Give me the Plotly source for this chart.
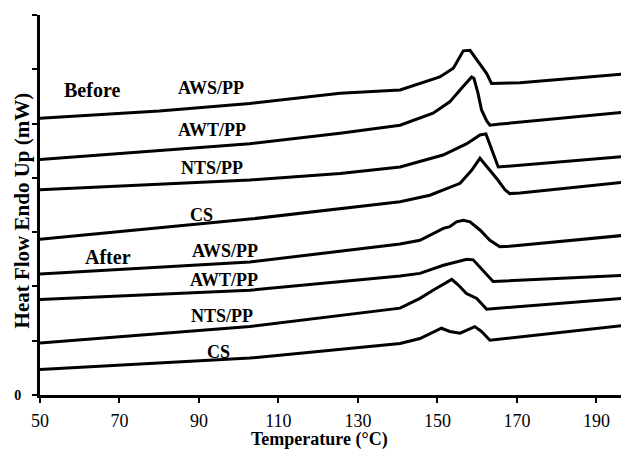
import plotly.graph_objects as go

# Temperature (°C) and heat-flow (offset, arbitrary units)
b_aws_t = [50, 80, 102.8, 125.5, 140.6, 145.6, 150.6, 154.0, 156.5, 158.2, 159.9, 162.4, 163.6, 170.8, 198.2]
b_aws_y = [5.10, 5.23, 5.37, 5.56, 5.62, 5.74, 5.86, 6.02, 6.34, 6.35, 6.17, 5.92, 5.74, 5.75, 5.92]

b_awt_t = [50, 102.8, 125.5, 138.8, 140.6, 148.9, 150.6, 153.1, 156.4, 158.6, 159.2, 160.2, 161.1, 162.4, 163.2, 165.8, 198.2]
b_awt_y = [4.34, 4.63, 4.82, 4.95, 4.97, 5.19, 5.28, 5.40, 5.68, 5.86, 5.83, 5.56, 5.25, 5.05, 4.97, 4.99, 5.22]

b_nts_t = [50, 102.8, 125.5, 140.6, 151.4, 157.4, 160.7, 162.2, 165.3, 198.2]
b_nts_y = [3.78, 3.96, 4.08, 4.20, 4.42, 4.63, 4.79, 4.81, 4.20, 4.40]

b_cs_t = [50, 102.8, 140.6, 148.1, 155.7, 158.6, 160.7, 163.2, 165.2, 167.0, 168.2, 170.8, 198.2]
b_cs_y = [2.87, 3.24, 3.56, 3.68, 3.90, 4.14, 4.36, 4.14, 3.96, 3.78, 3.71, 3.72, 3.93]

a_aws_t = [50, 102.8, 140.6, 145.6, 151.5, 153.1, 154.8, 156.5, 158.2, 160.7, 163.2, 165.7, 168.2, 198.2]
a_aws_y = [2.23, 2.45, 2.78, 2.85, 3.07, 3.10, 3.19, 3.22, 3.19, 3.04, 2.85, 2.73, 2.74, 2.95]

a_awt_t = [50, 102.8, 140.6, 145.6, 151.5, 157.4, 159.0, 161.5, 164.0, 198.2]
a_awt_y = [1.76, 1.93, 2.19, 2.24, 2.39, 2.50, 2.49, 2.30, 2.09, 2.21]

a_nts_t = [50, 102.8, 140.6, 145.6, 148.9, 153.6, 155.2, 157.3, 159.9, 162.4, 198.2]
a_nts_y = [0.96, 1.26, 1.60, 1.78, 1.93, 2.13, 2.03, 1.87, 1.78, 1.58, 1.79]

a_cs_t = [50, 102.8, 140.6, 145.6, 151.0, 153.1, 155.7, 159.4, 161.1, 163.2, 198.2]
a_cs_y = [0.47, 0.68, 0.95, 1.04, 1.23, 1.17, 1.14, 1.26, 1.17, 1.01, 1.29]

curves = [
    (b_aws_t, b_aws_y), (b_awt_t, b_awt_y), (b_nts_t, b_nts_y), (b_cs_t, b_cs_y),
    (a_aws_t, a_aws_y), (a_awt_t, a_awt_y), (a_nts_t, a_nts_y), (a_cs_t, a_cs_y),
]

label_text = ["Before", "AWS/PP", "AWT/PP", "NTS/PP", "CS", "After", "AWS/PP", "AWT/PP", "NTS/PP", "CS"]
label_x = [63.2, 93.0, 93.2, 93.2, 90.7, 67.0, 96.5, 96.3, 95.7, 95.0]
label_y = [5.62, 5.65, 4.88, 4.19, 3.31, 2.54, 2.65, 2.12, 1.46, 0.80]
label_size = [20, 18, 18, 18, 18, 20, 18, 18, 18, 18]

x_ticks = [50, 70, 90, 110, 130, 150, 170, 190]
y_ticks = [0, 1, 2, 3, 4, 5, 6, 7]
y_ticktext = ["<b>0</b>", "", "", "", "", "", "", ""]

FONT = "Liberation Serif"

fig = go.Figure()
for t, y in curves:
    fig.add_trace(go.Scatter(x=t, y=y, mode="lines",
                             line=dict(color="black", width=3),
                             showlegend=False, hoverinfo="skip"))

annotations = []
for txt, x, y, s in zip(label_text, label_x, label_y, label_size):
    annotations.append(dict(x=x, y=y, xref="x", yref="y", text="<b>" + txt + "</b>",
                            showarrow=False,
                            font=dict(family=FONT, size=s, color="black"),
                            xanchor="center", yanchor="middle"))
annotations.append(dict(x=0.475, y=-0.118, xref="paper", yref="paper",
                        text="<b>Temperature (°C)</b>", showarrow=False,
                        font=dict(family=FONT, size=18, color="black"),
                        xanchor="center", yanchor="middle"))
annotations.append(dict(x=-0.031, y=0.485, xref="paper", yref="paper",
                        text="<b>Heat Flow Endo Up (mW)</b>", showarrow=False, textangle=-90,
                        font=dict(family=FONT, size=21, color="black"),
                        xanchor="center", yanchor="middle"))

# The page body adds an 8px margin, so the figure is sized to fill the window exactly
fig.update_layout(
    width=621, height=445,
    margin=dict(l=32, r=0, t=7, b=58),
    paper_bgcolor="white", plot_bgcolor="white",
    annotations=annotations,
    xaxis=dict(range=[50, 198.2], tickvals=x_ticks, ticks="outside", ticklen=5, tickwidth=2,
               tickcolor="black", showline=True, linecolor="black", linewidth=3,
               showgrid=False, zeroline=False, ticklabelstandoff=2,
               tickfont=dict(family=FONT, size=18, color="black")),
    yaxis=dict(range=[0, 7], tickvals=y_ticks, ticktext=y_ticktext, ticks="outside", ticklen=5,
               tickwidth=2, tickcolor="black", showline=True, linecolor="black", linewidth=3,
               showgrid=False, zeroline=False, ticklabelstandoff=8,
               tickfont=dict(family=FONT, size=14, color="black")),
)

fig.write_html("out.html")
